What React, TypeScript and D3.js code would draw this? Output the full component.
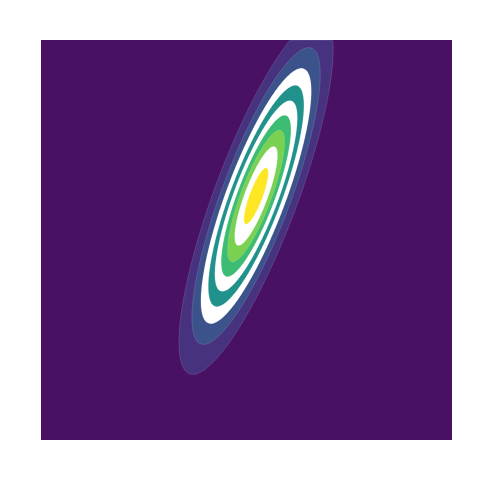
import React, { useEffect, useRef } from "react";
import * as d3 from "d3";

// bivariate normal (data units, y up)
const mean = [0.14, 0.66];
const sigma = [0.53, 1.26];
const rho = 0.82;

// contour levels as fraction of the peak density
const levels = [0.105, 0.21, 0.315, 0.42, 0.525, 0.63, 0.735, 0.84, 0.945];

// band colours, outside -> inside (first is the background band)
const bandColors = [
  "#481163",
  "#46327e",
  "#3b528b",
  "#ffffff",
  "#21918c",
  "#ffffff",
  "#3dbc74",
  "#7ad151",
  "#ffffff",
  "#fde725",
];

const xDomain = [-3, 3];
const yDomain = [-3, 3];

export default function App() {
  const ref = useRef<SVGSVGElement>(null);

  useEffect(() => {
    if (!ref.current) return;
    const svg = d3.select(ref.current);
    svg.selectAll("*").remove();

    const width = 493;
    const height = 481;
    const margin = { top: 40, right: 41, bottom: 41, left: 41 };
    const w = width - margin.left - margin.right;
    const h = height - margin.top - margin.bottom;

    const x = d3.scaleLinear().domain(xDomain).range([0, w]);
    const y = d3.scaleLinear().domain(yDomain).range([h, 0]);

    // sample the density on a grid
    const nx = 240;
    const ny = 240;
    const values = new Array(nx * ny);
    const [sx, sy] = sigma;
    for (let j = 0; j < ny; j++) {
      const yv = y.invert(((j + 0.5) / ny) * h);
      for (let i = 0; i < nx; i++) {
        const xv = x.invert(((i + 0.5) / nx) * w);
        const dx = (xv - mean[0]) / sx;
        const dy = (yv - mean[1]) / sy;
        const q = (dx * dx - 2 * rho * dx * dy + dy * dy) / (1 - rho * rho);
        values[j * nx + i] = Math.exp(-q / 2);
      }
    }

    const contours = d3.contours().size([nx, ny]).thresholds(levels)(values);

    const g = svg
      .append("g")
      .attr("transform", `translate(${margin.left},${margin.top})`);

    svg
      .append("defs")
      .append("clipPath")
      .attr("id", "plot-clip")
      .append("rect")
      .attr("width", w)
      .attr("height", h);

    const plot = g.append("g").attr("clip-path", "url(#plot-clip)");

    plot
      .append("rect")
      .attr("width", w)
      .attr("height", h)
      .attr("fill", bandColors[0]);

    const path = d3.geoPath(
      d3.geoTransform({
        point: function (px, py) {
          this.stream.point((px / nx) * w, (py / ny) * h);
        },
      })
    );

    plot
      .selectAll("path.band")
      .data(contours)
      .enter()
      .append("path")
      .attr("class", "band")
      .attr("d", (d: any) => path(d))
      .attr("fill", (d: any, i: number) => bandColors[i + 1])
      .attr("stroke", "rgba(255,255,255,0.35)")
      .attr("stroke-width", 0.4);
  }, []);

  return (
    <svg
      ref={ref}
      width={493}
      height={481}
      style={{ position: "absolute", left: 0, top: 0 }}
    />
  );
}
